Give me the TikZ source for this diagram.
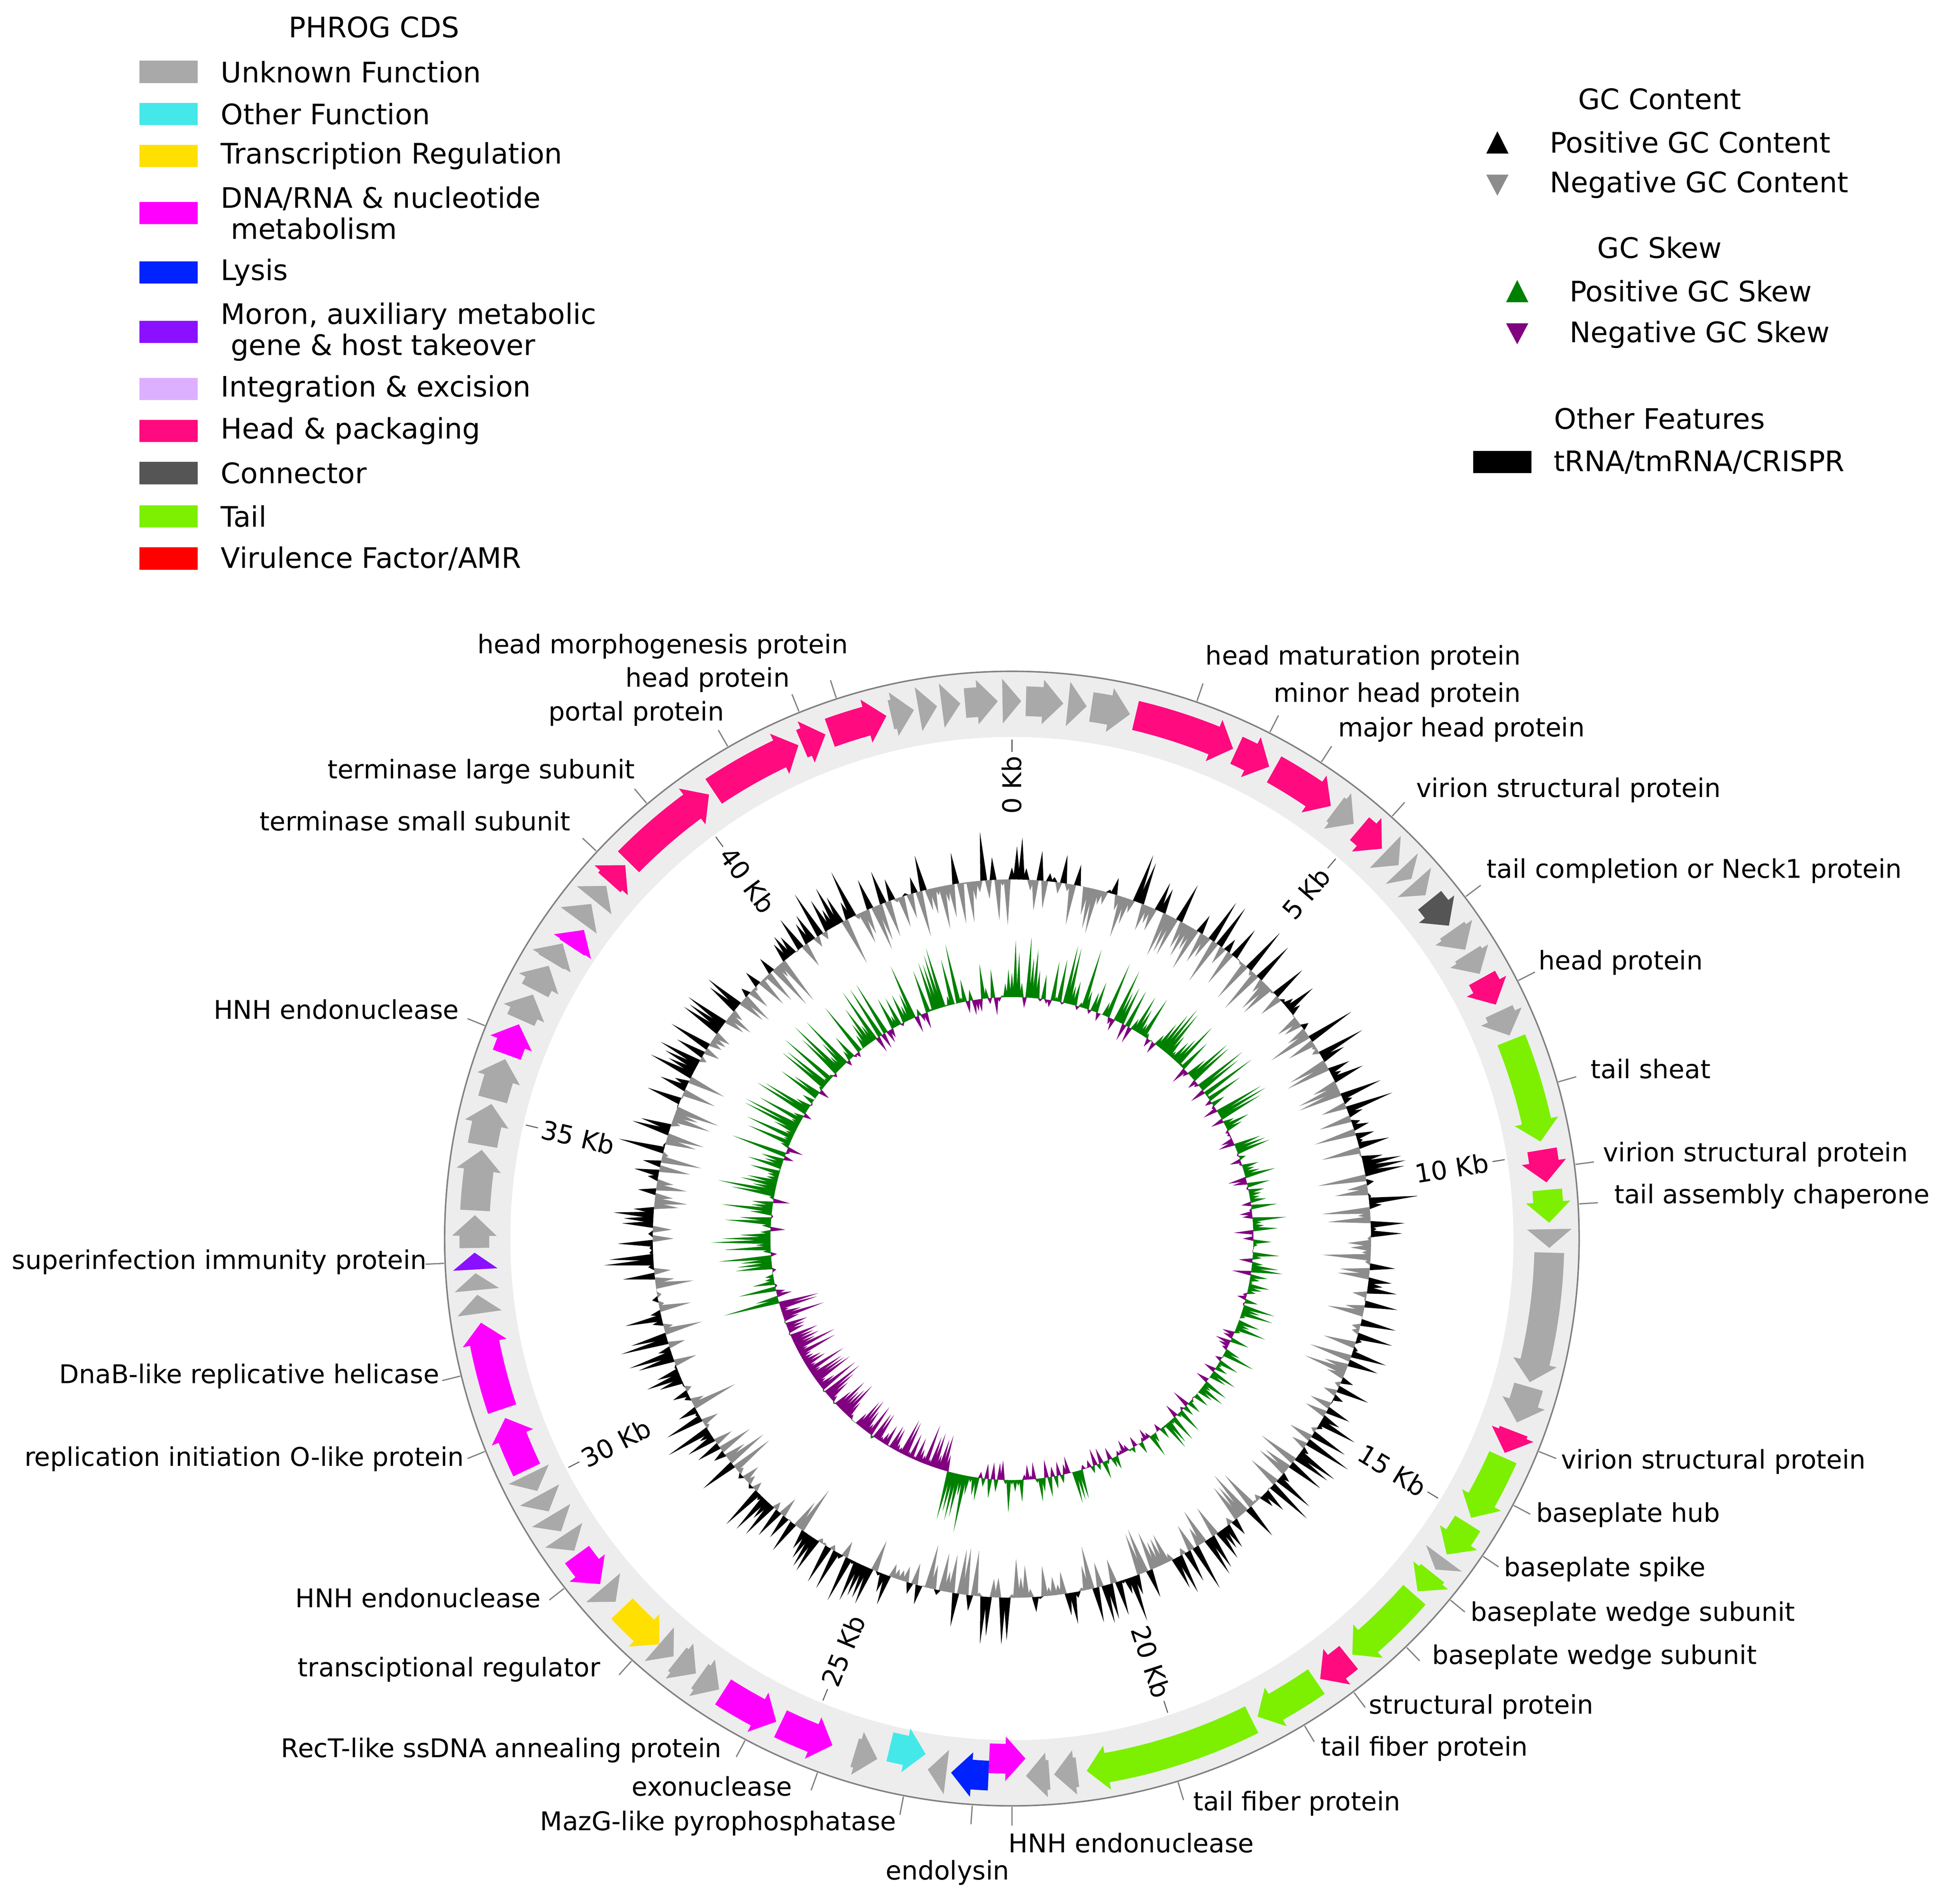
\documentclass[tikz,border=0pt]{standalone}
\usepackage{fontspec}
\setmainfont{DejaVu Sans}
\definecolor{cunk}{HTML}{A9A9A9}
\definecolor{coth}{HTML}{45E8E8}
\definecolor{ctr}{HTML}{FFE000}
\definecolor{cdna}{HTML}{FF00FF}
\definecolor{clys}{HTML}{0022FF}
\definecolor{cmor}{HTML}{8A10FF}
\definecolor{cint}{HTML}{DDB0FF}
\definecolor{chead}{HTML}{FF0A7F}
\definecolor{ccon}{HTML}{555555}
\definecolor{ctail}{HTML}{7CF000}
\definecolor{cvir}{HTML}{FF0000}
\definecolor{gcgray}{HTML}{8C8C8C}
\definecolor{skg}{HTML}{008000}
\definecolor{skp}{HTML}{800080}
\newcommand\gene[4][0]{%
 \pgfmathsetmacro\ga{90-#2}\pgfmathsetmacro\gb{90-#3}%
 \pgfmathsetmacro\gl{abs(\ga-\gb)}\pgfmathsetmacro\hl{min(2.2,\gl)}%
 \pgfmathsetmacro\gh{\gb+(\ga-\gb)/\gl*\hl}%
 \fill[#4] (\ga:{446+#1}) arc[start angle=\ga,end angle=\gh,radius={446+#1}] -- (\gh:{452+#1}) -- (\gb:{434+#1}) -- (\gh:{416+#1}) -- (\gh:{422+#1}) arc[start angle=\gh,end angle=\ga,radius={422+#1}] -- cycle;}
\tikzset{lab/.style={font=\fontsize{10.4}{12}\selectfont,inner sep=0pt},
 leg/.style={font=\fontsize{11.4}{12.6}\selectfont,inner sep=0pt,anchor=west,align=left},
 lbox/.style={minimum width=23.5pt,minimum height=9pt,inner sep=0pt}}
\begin{document}
\begin{tikzpicture}[x=0.5pt,y=-0.5pt]
\useasboundingbox (0,0) rectangle (1568,1537);
% legend left
\node[leg,anchor=center] (t1) at (302,22) {PHROG CDS};
\foreach \y/\c/\t in {58/cunk/Unknown Function,92/coth/Other Function,126/ctr/Transcription Regulation,
 172/cdna/{DNA/RNA \& nucleotide\\\hspace{0.35em}metabolism},220/clys/Lysis,
 268/cmor/{Moron, auxiliary metabolic\\\hspace{0.35em}gene \& host takeover},314/cint/Integration \& excision,
 348/chead/Head \& packaging,382/ccon/Connector,417/ctail/Tail,451/cvir/{Virulence Factor/AMR}}{
 \node[lbox,fill=\c] (b\y) at (136,\y) {};
 \node[leg] (l\y) at (178,\y) {\t};}
% legend right
\node[leg,anchor=center] (g1) at (1340,80) {GC Content};
\fill[black] (1200,124)--(1218,124)--(1209,106)--cycle;
\node[leg] (g2) at (1251,115) {Positive GC Content};
\fill[gcgray] (1200,141)--(1218,141)--(1209,158)--cycle;
\node[leg] (g3) at (1251,149) {Negative GC Content};
\node[leg,anchor=center] (g4) at (1340,200) {GC Skew};
\fill[skg] (1216,244)--(1234,244)--(1225,226)--cycle;
\node[leg] (g5) at (1267,235) {Positive GC Skew};
\fill[skp] (1216,261)--(1234,261)--(1225,278)--cycle;
\node[leg] (g6) at (1267,270) {Negative GC Skew};
\node[leg,anchor=center] (g7) at (1340,338) {Other Features};
\node[lbox,fill=black] (g8) at (1213,373) {};
\node[leg] (g9) at (1254,373) {tRNA/tmRNA/CRISPR};
% circle
\begin{scope}[shift={(817,1000)},yscale=-1]
\fill[gray!14,even odd rule] (0,0) circle (458) (0,0) circle (405);
\draw[gray,line width=0.6pt] (0,0) circle (458);
\pgfmathsetseed{42}
\foreach \i in {0,...,479}{
 \pgfmathsetmacro\m{90-\i*0.75}
 \pgfmathsetmacro\v{rand*40}
 \ifdim\v pt>0pt \def\c{black}\else\def\c{gcgray}\fi
 \fill[\c] ({\m+0.55}:290) -- ({\m}:{290+\v}) -- ({\m-0.55}:290) -- cycle;
 \pgfmathsetmacro\th{\i*0.75}
 \pgfmathsetmacro\w{(\th>195 && \th<255) ? -abs(rand)*38+3 : ((\th>60 && \th<190) ? rand*22+6 : (rand+0.55)*32)}
 \ifdim\w pt>0pt \def\c{skg}\else\def\c{skp}\fi
 \fill[\c] ({\m+0.55}:195) -- ({\m}:{195+\w}) -- ({\m-0.55}:195) -- cycle;
}
% kb ticks
\foreach \k in {0,5,...,40}{
 \pgfmathsetmacro\th{\k*8.09}\pgfmathsetmacro\m{90-\th}
 \draw[gray!70!black] (\m:393) -- (\m:403);
 \ifdim\th pt<180pt
  \node[lab,anchor=east,rotate=\m] (k\k) at (\m:390) {\k\ Kb};
 \else
  \node[lab,anchor=west,rotate={\m+180}] (k\k) at (\m:390) {\k\ Kb};
 \fi}
% genes
\foreach \a/\b in {347/349.5,350/352,352.5/354.5,355/358.5,359/361,361.5/365.5,366/368,368.5/372.7,37/39.5,44/46,46.5/48,48.5/50.3,55/57.5,58/60.5,65/67.8,89/91,91.5/105.5,106/110,126.5/128,173/175.5,176/178.5,187/189,197/194.5,215.5/213,218.5/216,221/219,229.5/227.5,236.5/234.5,239/237,241.5/239.5,244/242,262/264,264.5/266.3,269/272.5,273/279.5,280/284.5,285/289.5,294/297,297.5/300.5,301/303.3,306.3/308.5,309/311}{\gene{\a}{\b}{cunk}}
\foreach \a/\b in {13.3/24.3,24.7/28.6,29.2/36.4,40.3/43.5,61/64.2,80.5/84,111/113.5,141.2/145,311.5/314,314.5/325.7,326.3/336.6,337/339.7,340.2/346.5}{\gene{\a}{\b}{chead}}
\foreach \a/\b in {68.3/79.6,84.8/88.3,114/121.3,122/126,128.5/131,131.5/140.7,145.5/152.8,153.5/172}{\gene{\a}{\b}{ctail}}
\foreach \a/\b in {205.5/199.5,212.5/206,234/230,244.5/250.5,251.5/261,290/293.5}{\gene{\a}{\b}{cdna}}
\gene{51}{54.4}{ccon}
\gene[-14]{182.5}{178.5}{cdna}
\gene{182.5}{186.5}{clys}
\gene[-12]{193.5}{189.5}{coth}
\gene{226.5}{221}{ctr}
\gene{266.7}{268.5}{cmor}
\gene[-8]{303.5}{305.8}{cdna}
% leader lines
\foreach \t in {19,27,33,42,53,63,74,82.5,86.5,112,118,124,129.5,136,143,149,163,180,184,191,200,208,222,232,248,256,267.5,292,313,320,330,338,342}{
 \draw[gray,line width=0.5pt] ({90-\t}:459) -- ({90-\t}:474);}
\end{scope}
% labels right
\foreach \x/\y/\t [count=\n] in {973/531/head maturation protein,1028/561/minor head protein,1080/589/major head protein,
 1143/638/virion structural protein,1200/703/tail completion or Neck1 protein,1242/777/head protein,1284/863/tail sheat,
 1294/932/virion structural protein,1303/966/tail assembly chaperone,1260/1180/virion structural protein,
 1240/1223/baseplate hub,1214/1267/baseplate spike,1187/1303/baseplate wedge subunit,1156/1338/baseplate wedge subunit,
 1105/1378/structural protein,1066/1412/tail fiber protein,963/1456/tail fiber protein,814/1488/HNH endonuclease}{
 \node[lab,anchor=west] (r\n) at (\x,\y) {\t};}
\node[lab,anchor=center] (endo) at (765,1512) {endolysin};
\foreach \x/\y/\t [count=\n] in {724/1472/MazG-like pyrophosphatase,640/1442/exonuclease,583/1413/RecT-like ssDNA annealing protein,
 485/1348/transciptional regulator,437/1290/HNH endonuclease,375/1178/replication initiation O-like protein,
 355/1111/DnaB-like replicative helicase,345/1019/superinfection immunity protein,371/815/HNH endonuclease,
 461/663/terminase small subunit,513/623/terminase large subunit,585/576/portal protein,638/549/head protein,
 685/522/head morphogenesis protein}{
 \node[lab,anchor=east] (q\n) at (\x,\y) {\t};}
\end{tikzpicture}
\end{document}
